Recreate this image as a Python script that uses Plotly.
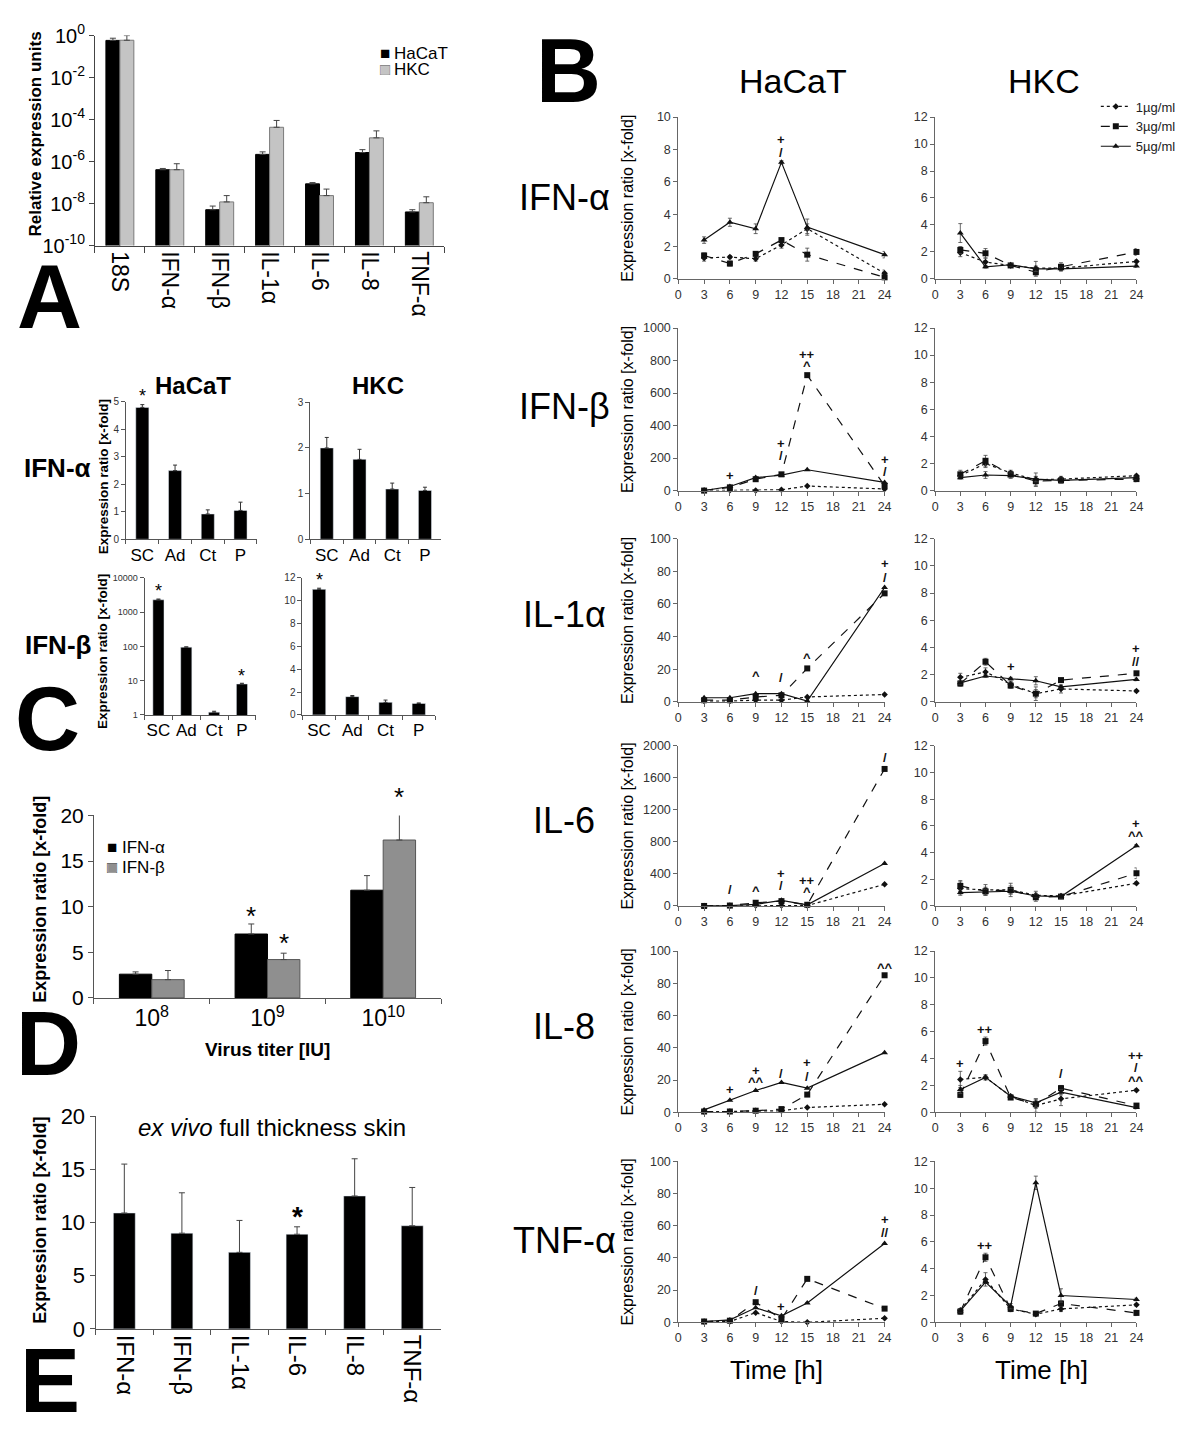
import math
import plotly.graph_objects as go

W, H = 1200, 1440
FONT = "Arial, 'Liberation Sans', sans-serif"

# ---------------- Panel A data ----------------
A_genes = ["18S", "IFN-α", "IFN-β", "IL-1α", "IL-6", "IL-8", "TNF-α"]
A_hacat = [0.59, 4.1e-7, 5.1e-9, 2.2e-6, 8.7e-8, 2.7e-6, 4.0e-9]
A_hacat_top = [0.75, 4.7e-7, 7.6e-9, 2.9e-6, 1.0e-7, 3.7e-6, 5.1e-9]
A_hkc = [0.60, 4.1e-7, 1.2e-8, 4.3e-5, 2.4e-8, 1.35e-5, 1.1e-8]
A_hkc_top = [1.0, 7.9e-7, 2.4e-8, 9.1e-5, 4.9e-8, 2.9e-5, 2.1e-8]
A_ytickvals = [1, 1e-2, 1e-4, 1e-6, 1e-8, 1e-10]
A_yticktext = ["10<sup>0</sup>", "10<sup>-2</sup>", "10<sup>-4</sup>",
               "10<sup>-6</sup>", "10<sup>-8</sup>", "10<sup>-10</sup>"]

# ---------------- Panel C data ----------------
C_cats = ["SC", "Ad", "Ct", "P"]
C_hacat_ifna = [4.8, 2.5, 0.92, 1.05]
C_hacat_ifna_err = [0.1, 0.2, 0.15, 0.3]
C_hkc_ifna = [2.0, 1.75, 1.1, 1.07]
C_hkc_ifna_err = [0.23, 0.22, 0.13, 0.07]
C_hacat_ifnb = [2300, 95, 1.2, 8.0]
C_hacat_ifnb_err = [120, 2, 0.08, 0.4]
C_hkc_ifnb = [11.0, 1.6, 1.1, 1.0]
C_hkc_ifnb_err = [0.1, 0.1, 0.2, 0.05]
C_log_ticks = [1, 10, 100, 1000, 10000]
C_log_ticktext = ["1", "10", "100", "1000", "10000"]
C_stars = [  # (plot, category, y)
    ("hacat_ifna", "SC", 5.2),
    ("hacat_ifnb", "SC", 4200),
    ("hacat_ifnb", "P", 13.5),
    ("hkc_ifnb", "SC", 11.8),
]

# ---------------- Panel D data ----------------
D_titers = ["10<sup>8</sup>", "10<sup>9</sup>", "10<sup>10</sup>"]
D_ifna = [2.6, 7.0, 11.8]
D_ifna_err = [0.25, 1.1, 1.6]
D_ifnb = [2.0, 4.2, 17.3]
D_ifnb_err = [1.0, 0.7, 3.7]
D_stars = [(1, "a", 9.0), (1, "b", 6.0), (2, "b", 22.0)]

# ---------------- Panel E data ----------------
E_genes = ["IFN-α", "IFN-β", "IL-1α", "IL-6", "IL-8", "TNF-α"]
E_vals = [10.9, 9.0, 7.2, 8.9, 12.5, 9.7]
E_err = [4.6, 3.8, 3.0, 0.7, 3.5, 3.6]
E_stars = [("IL-6", 10.6)]

# ---------------- Panel B data ----------------
B_times = [3, 6, 9, 12, 15, 24]
B_genes = ["IFN-α", "IFN-β", "IL-1α", "IL-6", "IL-8", "TNF-α"]
B_hacat_max = [10, 1000, 100, 2000, 100, 100]
B_hacat_dtick = [2, 200, 20, 400, 20, 20]
B_hacat_1 = [
    [1.3, 1.35, 1.25, 2.1, 3.1, 0.35],
    [0, 2, 0, 5, 28, 10],
    [0.5, 0.5, 1, 1, 3, 4.5],
    [0, 2, 5, 5, 5, 270],
    [0.3, 0.5, 1, 1, 3, 5],
    [0.3, 0.5, 6, 0.5, 0, 2.5],
]
B_hacat_3 = [
    [1.45, 0.95, 1.55, 2.4, 1.5, 0.1],
    [0, 20, 70, 100, 710, 30],
    [1, 1, 3, 4, 20.5, 66.5],
    [0, 5, 40, 60, 15, 1710],
    [0.5, 0.5, 1, 2, 11, 85],
    [0.5, 1, 12.5, 2, 27, 8.5],
]
B_hacat_5 = [
    [2.4, 3.5, 3.1, 7.2, 3.2, 1.5],
    [0, 25, 80, 95, 128, 50],
    [2.5, 2.5, 5, 5, 0.5, 70],
    [0, 5, 20, 70, 15, 530],
    [1.5, 7.5, 13.5, 18.5, 15, 37],
    [0.5, 1.5, 9, 4, 12, 49],
]
B_hkc_1 = [
    [1.95, 1.25, 1.0, 0.8, 0.8, 1.3],
    [1.1, 2.0, 1.3, 0.8, 0.85, 1.1],
    [1.8, 2.2, 1.3, 0.6, 0.95, 0.8],
    [1.3, 1.2, 1.2, 0.8, 0.75, 1.7],
    [2.45, 2.6, 1.2, 0.5, 1.0, 1.65],
    [0.9, 3.2, 1.0, 0.6, 1.0, 1.3],
]
B_hkc_3 = [
    [2.15, 1.9, 1.0, 0.5, 0.9, 2.0],
    [1.2, 2.2, 1.2, 0.7, 0.75, 0.85],
    [1.35, 2.95, 1.2, 0.6, 1.6, 2.1],
    [1.5, 1.1, 1.2, 0.65, 0.7, 2.45],
    [1.3, 5.3, 1.1, 0.6, 1.8, 0.5],
    [0.8, 4.85, 1.0, 0.65, 1.4, 0.7],
]
B_hkc_5 = [
    [3.4, 0.9, 1.05, 0.75, 0.75, 0.95],
    [0.95, 1.15, 1.1, 0.85, 0.75, 0.95],
    [1.4, 1.9, 1.7, 1.55, 1.1, 1.65],
    [1.0, 1.05, 1.1, 0.75, 0.7, 4.5],
    [1.7, 2.6, 1.2, 0.7, 1.5, 0.35],
    [0.85, 3.0, 1.2, 10.4, 2.0, 1.7],
]
# error bars (± values)
B_hacat_1_err = [
    [0.2, 0.1, 0.15, 0.2, 0.3, 0.2],
    [0, 0, 0, 0, 0, 0],
    [0, 0, 0, 0, 0, 0],
    [0, 0, 0, 0, 0, 0],
    [0, 0, 0, 0, 0, 0],
    [0, 0, 0, 0, 0, 0],
]
B_hacat_3_err = [
    [0.15, 0.15, 0.1, 0.1, 0.4, 0.1],
    [0, 0, 0, 0, 0, 0],
    [0, 0, 0, 0, 0, 0],
    [0, 0, 0, 0, 0, 0],
    [0, 0, 0, 0, 0, 0],
    [0, 0, 0, 0, 0, 0],
]
B_hacat_5_err = [
    [0.2, 0.25, 0.3, 0.1, 0.5, 0.2],
    [0, 0, 0, 0, 0, 0],
    [0, 0, 0, 0, 0, 0],
    [0, 0, 0, 0, 0, 0],
    [0, 0, 0, 0, 0, 0],
    [0, 0, 0, 0, 0, 0],
]
B_hkc_1_err = [
    [0.3, 0.3, 0.1, 0.5, 0.2, 0.1],
    [0.2, 0.3, 0.2, 0.5, 0.2, 0.1],
    [0.3, 0.3, 0.2, 0.5, 0.3, 0.1],
    [0.5, 0.4, 0.5, 0.3, 0.1, 0.1],
    [0.6, 0.2, 0.1, 0.5, 0.5, 0.1],
    [0.1, 0.5, 0.2, 0.1, 0.2, 0.1],
]
B_hkc_3_err = [
    [0.25, 0.35, 0.1, 0.3, 0.3, 0.25],
    [0.3, 0.4, 0.2, 0.3, 0.2, 0.2],
    [0.2, 0.25, 0.2, 0.3, 0.1, 0.1],
    [0.4, 0.3, 0.3, 0.3, 0.1, 0.4],
    [0.2, 0.3, 0.1, 0.3, 0.2, 0.1],
    [0.2, 0.3, 0.2, 0.1, 0.2, 0.2],
]
B_hkc_5_err = [
    [0.7, 0.1, 0.1, 0.2, 0.1, 0.1],
    [0.1, 0.25, 0.2, 0.2, 0.1, 0.1],
    [0.1, 0.1, 0.1, 0.3, 0.1, 0.1],
    [0.1, 0.2, 0.2, 0.1, 0.1, 0.1],
    [0.3, 0.1, 0.1, 0.3, 0.2, 0.1],
    [0.1, 0.1, 0.2, 0.5, 0.5, 0.1],
]
B_doses = ["1µg/ml", "3µg/ml", "5µg/ml"]
# significance marks: (row, column 0=HaCaT 1=HKC, time, y, text)
B_marks = [
    (0, 0, 12, 8.6, "+"), (0, 0, 12, 7.8, "/"),
    (1, 0, 6, 95, "+"), (1, 0, 12, 290, "+"), (1, 0, 12, 215, "/"),
    (1, 0, 15, 835, "++"), (1, 0, 15, 770, "^"), (1, 0, 24, 190, "+"), (1, 0, 24, 115, "/"),
    (2, 0, 9, 16, "^"), (2, 0, 12, 15, "/"), (2, 0, 15, 27, "^"), (2, 0, 24, 85, "+"), (2, 0, 24, 76, "/"),
    (2, 1, 9, 2.6, "+"), (2, 1, 24, 3.95, "+"), (2, 1, 24, 3.0, "//"),
    (3, 0, 6, 200, "/"), (3, 0, 9, 190, "^"), (3, 0, 12, 400, "+"), (3, 0, 12, 250, "/"),
    (3, 0, 15, 320, "++"), (3, 0, 15, 180, "^"), (3, 0, 24, 2010, "++"), (3, 0, 24, 1850, "/"),
    (3, 1, 24, 6.15, "+"), (3, 1, 24, 5.3, "^^"),
    (4, 0, 6, 14, "+"), (4, 0, 9, 26, "+"), (4, 0, 9, 19, "^^"), (4, 0, 12, 24, "/"),
    (4, 0, 15, 31, "+"), (4, 0, 15, 22, "/"), (4, 0, 24, 90, "^^"),
    (4, 1, 3, 3.6, "+"), (4, 1, 6, 6.2, "++"), (4, 1, 15, 2.9, "/"),
    (4, 1, 24, 4.2, "++"), (4, 1, 24, 3.3, "/"), (4, 1, 24, 2.4, "^^"),
    (5, 0, 9, 20, "/"), (5, 0, 12, 10, "+"), (5, 0, 24, 64, "+"), (5, 0, 24, 56, "//"),
    (5, 1, 6, 5.7, "++"),
]


# ---------------- helpers ----------------
def xd(a, b):
    return [a / W, b / W]


def yd(top, bottom):
    return [1 - bottom / H, 1 - top / H]


def px(x):
    return x / W


def py(y):
    return 1 - y / H


fig = go.Figure()
layout_axes = {}


def add_axes(i, xdom, ydom, xkw, ykw, lc="#444"):
    ref = "" if i == 1 else str(i)
    base = dict(showline=True, linecolor=lc, linewidth=1, ticks="outside",
                tickcolor=lc, ticklen=4, showgrid=False, zeroline=False,
                fixedrange=True)
    xa = dict(base)
    xa.update(domain=xdom, anchor="y" + ref)
    xa.update(xkw)
    ya = dict(base)
    ya.update(domain=ydom, anchor="x" + ref)
    ya.update(ykw)
    layout_axes["xaxis" + ref] = xa
    layout_axes["yaxis" + ref] = ya
    return "x" + ref, "y" + ref


annotations = []


def txt(x, y, s, size, bold=False, angle=0, xanchor="center", yanchor="middle",
        color="black", xref="paper", yref="paper"):
    if bold:
        s = "<b>" + s + "</b>"
    if xref == "paper":
        x = px(x)
    if yref == "paper":
        y = py(y)
    annotations.append(dict(x=x, y=y, xref=xref, yref=yref, text=s, showarrow=False,
                            textangle=angle, xanchor=xanchor, yanchor=yanchor,
                            font=dict(size=size, color=color, family=FONT)))


def up_err(vals, tops):
    return [t - v for v, t in zip(vals, tops)]


def legend_entry(x, y, label, fill, outline=None, size=17):
    # swatch + label drawn as text at a paper position
    txt(x, y, "■", size, xanchor="left", color=fill)
    if outline:
        txt(x, y, "□", size, xanchor="left", color=outline)
    txt(x + 0.62 * size + 4, y, label, size, xanchor="left")


# ---------------- Panel A ----------------
xa, ya = add_axes(
    1, xd(92.7, 445), yd(22, 236),
    dict(type="category", tickson="boundaries", tickangle=90, ticklen=6,
         tickfont=dict(size=23, color="black"), range=[-0.5, 6.5]),
    dict(type="log", range=[-10, 0], tickvals=A_ytickvals, ticktext=A_yticktext,
         tickfont=dict(size=20, color="black"), ticklen=5))
fig.add_bar(x=A_genes, y=A_hacat, xaxis=xa, yaxis=ya, width=0.28, offset=-0.28,
            name="HaCaT", showlegend=False,
            marker=dict(color="black", line=dict(color="black", width=1)),
            error_y=dict(type="data", symmetric=False, array=up_err(A_hacat, A_hacat_top),
                         arrayminus=[0] * 7, color="#444", thickness=1, width=3))
fig.add_bar(x=A_genes, y=A_hkc, xaxis=xa, yaxis=ya, width=0.28, offset=0.0,
            name="HKC", showlegend=False,
            marker=dict(color="#c4c4c4", line=dict(color="#7a7a7a", width=1)),
            error_y=dict(type="data", symmetric=False, array=up_err(A_hkc, A_hkc_top),
                         arrayminus=[0] * 7, color="#444", thickness=1, width=3))
legend_entry(378, 40, "HaCaT", "black")
legend_entry(378, 57, "HKC", "#c4c4c4", outline="#777")
txt(33, 122, "Relative expression units", 17, bold=True, angle=-90)
txt(47, 288, "A", 90, bold=True)

# ---------------- Panel C ----------------
c_tick = dict(type="category", tickson="boundaries", ticklen=4, tickangle=0,
              tickfont=dict(size=17, color="black"))
c_specs = {
    "hacat_ifna": (2, xd(124, 256), yd(395.3, 535.3), C_hacat_ifna, C_hacat_ifna_err,
                   dict(range=[0, 5], dtick=1, tickfont=dict(size=10, color="#333"))),
    "hkc_ifna": (3, xd(310, 442), yd(395.7, 535.3), C_hkc_ifna, C_hkc_ifna_err,
                 dict(range=[0, 3], dtick=1, tickfont=dict(size=10, color="#333"))),
    "hacat_ifnb": (4, xd(142.7, 255), yd(574.7, 714.3), C_hacat_ifnb, C_hacat_ifnb_err,
                   dict(type="log", range=[0, 4], tickvals=C_log_ticks,
                        ticktext=C_log_ticktext, tickfont=dict(size=9, color="#333"))),
    "hkc_ifnb": (5, xd(302, 436), yd(574.7, 714.3), C_hkc_ifnb, C_hkc_ifnb_err,
                 dict(range=[0, 12], dtick=2, tickfont=dict(size=10, color="#333"))),
}
c_refs = {}
for key, (i, xdom, ydom, vals, errs, ykw) in c_specs.items():
    xr, yr = add_axes(i, xdom, ydom, dict(c_tick, range=[-0.5, 3.5]), ykw, lc="#555")
    rng = ykw["range"]
    c_refs[key] = (xr, yr, rng, ykw.get("type") == "log")
    fig.add_bar(x=C_cats, y=vals, xaxis=xr, yaxis=yr, width=0.4, showlegend=False,
                marker=dict(color="black"),
                error_y=dict(type="data", symmetric=False, array=errs,
                             arrayminus=[0] * 4, color="#333", thickness=1, width=2))
for key, cat, yv in C_stars:
    xr, yr, rng, is_log = c_refs[key]
    v = math.log10(yv) if is_log else yv
    frac = (v - rng[0]) / (rng[1] - rng[0])
    txt(cat, frac, "*", 18, xref=xr, yref=yr + " domain")
txt(192, 379, "HaCaT", 24, bold=True)
txt(378, 379, "HKC", 24, bold=True)
txt(55, 463, "IFN-α", 26, bold=True)
txt(55, 643, "IFN-β", 26, bold=True)
txt(101, 472, "Expression ratio [x-fold]", 13.5, bold=True, angle=-90)
txt(101, 650, "Expression ratio [x-fold]", 13.5, bold=True, angle=-90)
txt(45, 718, "C", 90, bold=True)

# ---------------- Panel D ----------------
D_range = [0, 20]
xr, yr = add_axes(
    6, xd(91.7, 441.7), yd(816.7, 1002.7),
    dict(type="category", tickson="boundaries", ticklen=5, range=[-0.5, 2.5],
         tickangle=0, tickfont=dict(size=23, color="black")),
    dict(range=D_range, dtick=5, tickfont=dict(size=21, color="black"), ticklen=5),
    lc="#555")
fig.add_bar(x=D_titers, y=D_ifna, xaxis=xr, yaxis=yr, width=0.28, offset=-0.28,
            name="IFN-α", showlegend=False,
            marker=dict(color="black", line=dict(color="black", width=1)),
            error_y=dict(type="data", symmetric=False, array=D_ifna_err,
                         arrayminus=[0] * 3, color="#444", thickness=1, width=3))
fig.add_bar(x=D_titers, y=D_ifnb, xaxis=xr, yaxis=yr, width=0.28, offset=0.0,
            name="IFN-β", showlegend=False,
            marker=dict(color="#8f8f8f", line=dict(color="#555", width=1)),
            error_y=dict(type="data", symmetric=False, array=D_ifnb_err,
                         arrayminus=[0] * 3, color="#444", thickness=1, width=3))
for gi, which, yv in D_stars:
    off = -0.14 if which == "a" else 0.14
    frac = (yv - D_range[0]) / (D_range[1] - D_range[0])
    txt(gi + off, frac, "*", 26, xref=xr, yref=yr + " domain")
legend_entry(103, 849, "IFN-α", "black")
legend_entry(103, 870, "IFN-β", "#8f8f8f", outline="#555")
txt(37, 902, "Expression ratio [x-fold]", 18, bold=True, angle=-90)
txt(267, 1055, "Virus titer [IU]", 19, bold=True)
txt(46, 1050, "D", 90, bold=True)

# ---------------- Panel E ----------------
xr, yr = add_axes(
    7, xd(93.3, 441.7), yd(1123.3, 1340),
    dict(type="category", tickson="boundaries", tickangle=90, ticklen=5,
         range=[-0.5, 5.5], tickfont=dict(size=24, color="black")),
    dict(range=[0, 20], dtick=5, tickfont=dict(size=22, color="black"), ticklen=5),
    lc="#555")
fig.add_bar(x=E_genes, y=E_vals, xaxis=xr, yaxis=yr, width=0.38, showlegend=False,
            marker=dict(color="black"),
            error_y=dict(type="data", symmetric=False, array=E_err,
                         arrayminus=[0] * 6, color="#444", thickness=1, width=3))
for cat, yv in E_stars:
    txt(cat, yv, "*", 28, bold=True, xref=xr, yref=yr)
txt(271, 1135, "<i>ex vivo</i> full thickness skin", 24)
txt(37, 1229, "Expression ratio [x-fold]", 18, bold=True, angle=-90)
txt(47, 1393, "E", 90, bold=True)

# ---------------- Panel B ----------------
B_cols = [(681, 889), (940, 1143)]
B_rows = [(105, 270), (320, 485.7), (534.7, 701), (745.7, 909), (955, 1119.3), (1169.3, 1333.3)]
series_style = [("dot", "diamond", 5), ("dash", "square", 6), ("solid", "triangle-up", 6)]
b_refs = {}
for r in range(6):
    for c in range(2):
        i = 8 + r * 2 + c
        top, bot = B_rows[r]
        if c == 0:
            ymax, dt = B_hacat_max[r], B_hacat_dtick[r]
            data = [B_hacat_1[r], B_hacat_3[r], B_hacat_5[r]]
            errs = [B_hacat_1_err[r], B_hacat_3_err[r], B_hacat_5_err[r]]
        else:
            ymax, dt = 12, 2
            data = [B_hkc_1[r], B_hkc_3[r], B_hkc_5[r]]
            errs = [B_hkc_1_err[r], B_hkc_3_err[r], B_hkc_5_err[r]]
        xr, yr = add_axes(
            i, xd(*B_cols[c]), yd(top, bot),
            dict(range=[0, 24], tickvals=list(range(0, 25, 3)), ticklen=4,
                 tickfont=dict(size=12.5, color="#333")),
            dict(range=[0, ymax], dtick=dt, ticklen=4,
                 tickfont=dict(size=12.5, color="#333")),
            lc="#666")
        b_refs[(r, c)] = (xr, yr)
        for k, (dash, sym, ms) in enumerate(series_style):
            fig.add_scatter(
                x=B_times, y=data[k], xaxis=xr, yaxis=yr, mode="lines+markers",
                name=B_doses[k], legend="legend",
                showlegend=(r == 0 and c == 0), cliponaxis=False,
                line=dict(color="#111", width=1.2, dash=dash),
                marker=dict(symbol=sym, size=ms, color="#111"),
                error_y=dict(type="data", array=errs[k], color="#444",
                             thickness=0.8, width=2))
        if c == 0:
            txt(630, (top + bot) / 2, "Expression ratio [x-fold]", 16, angle=-90)
for r, c, t, yv, s in B_marks:
    xr, yr = b_refs[(r, c)]
    txt(t, yv, s, 13, bold=True, xref=xr, yref=yr, color="#111")

B_label_y = [187, 400, 612, 822, 1032, 1250]
for g, yy in zip(B_genes, B_label_y):
    txt(566, yy, g, 36)
txt(797, 68, "HaCaT", 34)
txt(1050, 68, "HKC", 34)
txt(780, 1382, "Time [h]", 26)
txt(1047, 1382, "Time [h]", 26)
txt(570, 58, "B", 90, bold=True)

fig.update_layout(
    width=W, height=H, margin=dict(l=0, r=0, t=0, b=0, pad=0),
    paper_bgcolor="white", plot_bgcolor="white",
    font=dict(family=FONT, color="black"),
    barmode="overlay", showlegend=True,
    legend=dict(x=px(1102), y=py(79), xanchor="left", yanchor="top",
                font=dict(size=13, color="#222"), bgcolor="rgba(0,0,0,0)",
                itemwidth=30, tracegroupgap=0),
    annotations=annotations,
    **layout_axes,
)

fig.write_html("out.html",
               config={"displayModeBar": False, "staticPlot": True},
               post_script="document.body.style.margin='0px';"
                           "document.body.style.overflow='hidden';")
